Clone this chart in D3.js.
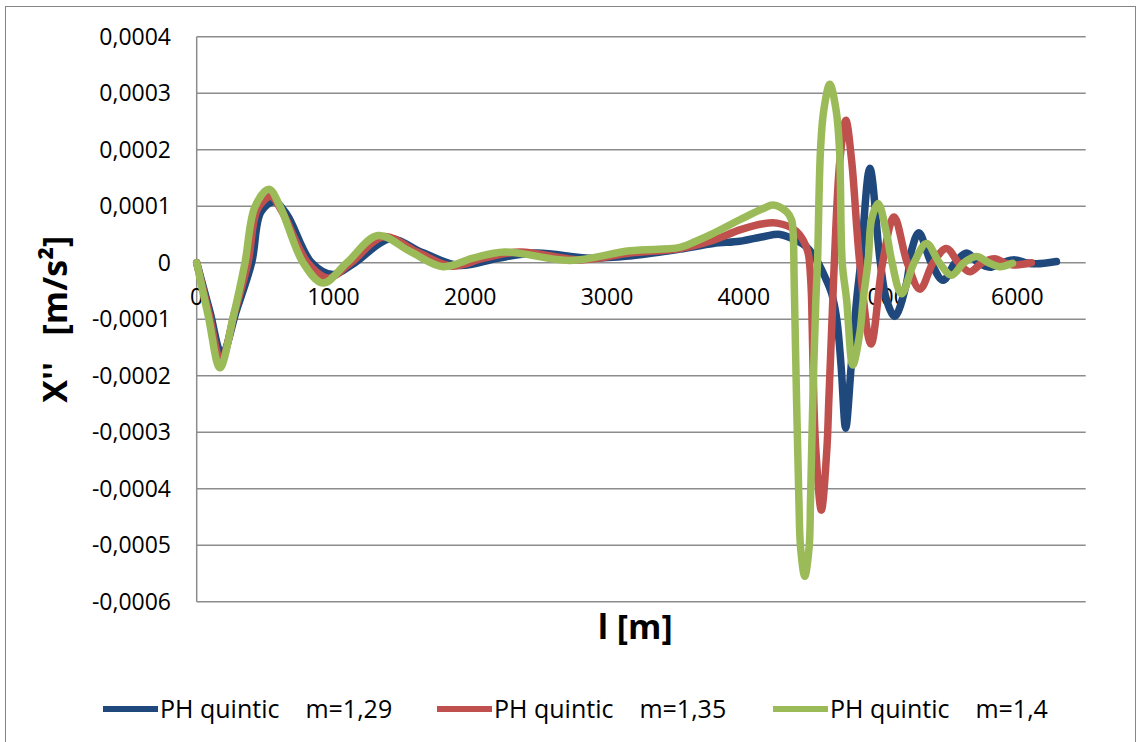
<!DOCTYPE html>
<html>
<head>
<meta charset="utf-8">
<script src="https://cdn.jsdelivr.net/npm/d3@7"></script>
<style>
  html, body { margin: 0; padding: 0; background: #fff; }
  svg { display: block; font-family: "Open Sans", "Liberation Sans", sans-serif; }
</style>
</head>
<body>
<svg id="chart" width="1137" height="742"></svg>
<script>
// Second derivative X'' along the route length l, three PH quintic transitions
const seriesNames = ["PH quintic    m=1,29", "PH quintic    m=1,35", "PH quintic    m=1,4"];
const seriesColors = ["#1F497D", "#C0504D", "#9BBB59"];

// [l (m), X'' (m/s²)]
const m129 = [
  [0, 0], [95, -0.85e-4], [185, -1.62e-4], [290, -0.85e-4], [402, 0], [470, 0.9e-4],
  [567, 1.08e-4], [660, 0.85e-4], [840, 0], [996, -0.21e-4], [1157, 0], [1412, 0.42e-4],
  [1650, 0.18e-4], [1920, -0.05e-4], [2200, 0.08e-4], [2485, 0.17e-4], [2875, 0.08e-4],
  [3168, 0.12e-4], [3533, 0.24e-4], [3777, 0.34e-4], [3971, 0.38e-4], [4142, 0.46e-4],
  [4265, 0.50e-4], [4396, 0.38e-4], [4459, 0.28e-4], [4532, 0.05e-4], [4593, -0.25e-4],
  [4642, -0.54e-4], [4680, -1.0e-4], [4712, -1.84e-4], [4745, -2.93e-4], [4785, -1.84e-4],
  [4825, -0.66e-4], [4855, 0], [4922, 1.67e-4], [4996, 0.05e-4], [5044, -0.66e-4],
  [5104, -0.95e-4], [5190, -0.36e-4], [5227, 0.22e-4], [5280, 0.53e-4], [5370, 0],
  [5458, -0.31e-4], [5545, 0], [5629, 0.17e-4], [5715, 0], [5799, -0.08e-4], [5890, 0],
  [5982, 0.05e-4], [6060, 0], [6140, -0.02e-4], [6286, 0.02e-4]
];

const m135 = [
  [0, 0], [90, -0.9e-4], [178, -1.74e-4], [275, -0.9e-4], [375, 0], [445, 0.95e-4],
  [541, 1.17e-4], [625, 0.9e-4], [811, 0], [960, -0.27e-4], [1128, 0], [1365, 0.46e-4],
  [1620, 0.18e-4], [1860, -0.06e-4], [2100, 0.08e-4], [2363, 0.19e-4], [2803, 0.05e-4],
  [3168, 0.17e-4], [3533, 0.25e-4], [3777, 0.40e-4], [3971, 0.58e-4], [4142, 0.69e-4],
  [4243, 0.70e-4], [4373, 0.58e-4], [4434, 0.40e-4], [4471, 0.17e-4], [4488, -0.25e-4],
  [4496, -0.66e-4], [4512, -2.43e-4], [4527, -3.32e-4], [4567, -4.38e-4], [4607, -3.32e-4],
  [4622, -2.43e-4], [4651, -0.66e-4], [4662, 0], [4703, 1.82e-4], [4746, 2.52e-4],
  [4788, 1.82e-4], [4848, 0], [4930, -1.44e-4], [5015, 0], [5099, 0.81e-4], [5195, 0],
  [5288, -0.47e-4], [5385, 0], [5482, 0.25e-4], [5570, 0], [5653, -0.16e-4], [5745, 0],
  [5836, 0.07e-4], [5905, 0], [5968, -0.04e-4], [6103, 0]
];

const m140 = [
  [0, 0], [85, -0.95e-4], [170, -1.86e-4], [268, -0.95e-4], [353, 0], [426, 0.99e-4],
  [528, 1.30e-4], [609, 1.0e-4], [778, 0], [923, -0.36e-4], [1099, 0], [1325, 0.48e-4],
  [1560, 0.2e-4], [1800, -0.07e-4], [2020, 0.08e-4], [2250, 0.19e-4], [2730, 0.04e-4],
  [3168, 0.21e-4], [3533, 0.27e-4], [3650, 0.38e-4], [3777, 0.52e-4], [3971, 0.76e-4],
  [4142, 0.96e-4], [4215, 1.02e-4], [4313, 0.90e-4], [4349, 0.76e-4], [4361, 0.52e-4],
  [4368, -0.25e-4], [4386, -2.43e-4], [4403, -4.2e-4], [4415, -5.03e-4], [4446, -5.55e-4],
  [4478, -5.03e-4], [4488, -4.2e-4], [4505, -2.43e-4], [4527, -0.66e-4], [4539, 0],
  [4561, 2.0e-4], [4585, 2.7e-4], [4629, 3.16e-4], [4675, 2.7e-4], [4700, 2.0e-4],
  [4720, 0], [4752, -0.66e-4], [4797, -1.81e-4], [4848, -1.25e-4], [4873, -0.66e-4],
  [4910, 0.05e-4], [4934, 0.76e-4], [4982, 1.05e-4], [5044, 0.52e-4], [5080, 0.05e-4],
  [5153, -0.55e-4], [5245, 0], [5336, 0.34e-4], [5430, 0], [5519, -0.22e-4], [5610, 0],
  [5702, 0.11e-4], [5790, 0], [5872, -0.07e-4], [5965, -0.01e-4]
];

const xTicks = [0, 1000, 2000, 3000, 4000, 5000, 6000];
const yTicks = [0.0004, 0.0003, 0.0002, 0.0001, 0, -0.0001, -0.0002, -0.0003, -0.0004, -0.0005, -0.0006];
const xTitle = "l [m]";
const yTitle = "X''   [m/s²]";

const series = [m129, m135, m140];

const svg = d3.select("#chart");
const plot = { left: 196.7, right: 1085.7, top: 36.7, bottom: 601.7 };

const x = d3.scaleLinear().domain([0, 6500]).range([plot.left, plot.right]);
const y = d3.scaleLinear().domain([-0.0006, 0.0004]).range([plot.bottom, plot.top]);

const fmtY = v => v === 0 ? "0" : v.toFixed(4).replace(".", ",");

// outer chart frame
svg.append("rect")
  .attr("x", 5.5).attr("y", 6.5).attr("width", 1130).attr("height", 745)
  .attr("fill", "#fff").attr("stroke", "#868686").attr("stroke-width", 1);

// horizontal gridlines
svg.append("g").selectAll("line").data(yTicks).join("line")
  .attr("x1", plot.left).attr("x2", plot.right)
  .attr("y1", d => y(d)).attr("y2", d => y(d))
  .attr("stroke", "#8c8c8c").attr("stroke-width", 1.5);

// vertical axis line
svg.append("line")
  .attr("x1", plot.left).attr("x2", plot.left)
  .attr("y1", plot.top).attr("y2", plot.bottom)
  .attr("stroke", "#8c8c8c").attr("stroke-width", 1.5);

// y tick labels
svg.append("g").selectAll("text").data(yTicks).join("text")
  .attr("x", 171).attr("y", d => y(d) + 8)
  .attr("text-anchor", "end")
  .attr("font-size", 23).attr("fill", "#000")
  .text(fmtY);

// x tick labels, hanging below the zero line
svg.append("g").selectAll("text").data(xTicks).join("text")
  .attr("x", d => x(d)).attr("y", y(0) + 42)
  .attr("text-anchor", "middle")
  .attr("font-size", 23).attr("fill", "#000")
  .text(d => d);

// series
const line = d3.line().x(d => x(d[0])).y(d => y(d[1])).curve(d3.curveCatmullRom.alpha(0.5));
svg.append("g").selectAll("path").data(series).join("path")
  .attr("d", line)
  .attr("fill", "none")
  .attr("stroke", (d, i) => seriesColors[i])
  .attr("stroke-width", 7.5)
  .attr("stroke-linejoin", "round")
  .attr("stroke-linecap", "round");

// axis titles
svg.append("text")
  .attr("x", (plot.left + plot.right) / 2 - 6).attr("y", 639)
  .attr("text-anchor", "middle")
  .attr("font-size", 34).attr("font-weight", "bold")
  .text(xTitle);

svg.append("text")
  .attr("transform", `translate(67,${(plot.top + plot.bottom) / 2}) rotate(-90)`)
  .attr("text-anchor", "middle")
  .attr("font-size", 34).attr("font-weight", "bold")
  .style("white-space", "pre")
  .text(yTitle);

// legend
const legendX = [103, 437, 773];
const legend = svg.append("g").selectAll("g").data(seriesNames).join("g")
  .attr("transform", (d, i) => `translate(${legendX[i]},709)`);
legend.append("line")
  .attr("x1", 0).attr("x2", 55).attr("y1", 0).attr("y2", 0)
  .attr("stroke", (d, i) => seriesColors[i]).attr("stroke-width", 6);
legend.append("circle")
  .attr("cx", 27.5).attr("cy", 0).attr("r", 2.5)
  .attr("fill", (d, i) => seriesColors[i]);
legend.append("text")
  .attr("x", 57).attr("y", 8.5)
  .attr("font-size", 25)
  .style("white-space", "pre")
  .text(d => d);
</script>
</body>
</html>
